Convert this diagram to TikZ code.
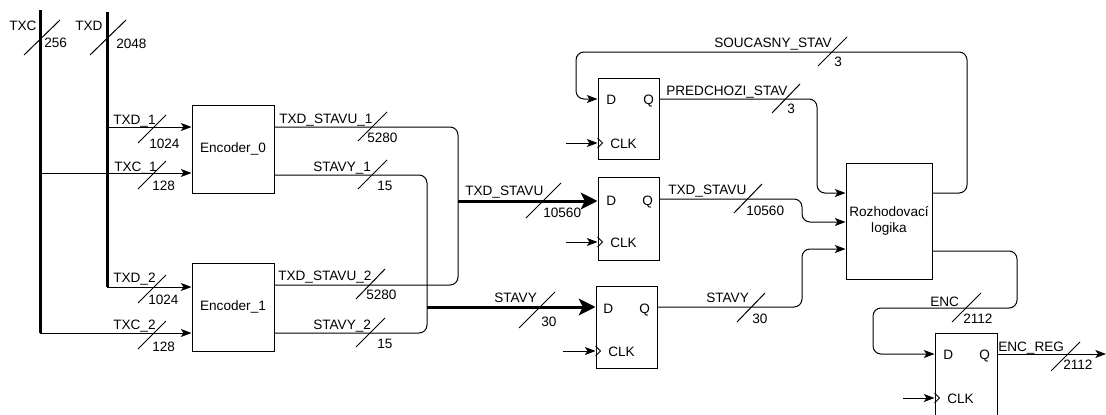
\documentclass[tikz,border=0pt]{standalone}
\usepackage{fontspec}
\setmainfont{Liberation Sans}
\usetikzlibrary{arrows.meta,calc}
\begin{document}
\begin{tikzpicture}[x=0.75pt,y=-0.75pt,
  font=\fontsize{10.2}{12.6}\selectfont,
  wire/.style={line width=0.75pt, draw=black},
  arr/.style={wire, -{Stealth[length=8pt,width=6pt,inset=2pt]}},
  bus/.style={line width=2.25pt, draw=black},
  busarr/.style={bus, -{Stealth[length=12.5pt,width=12.5pt,inset=3pt]}},
  lbl/.style={inner sep=0pt, anchor=base west},
  box/.style={draw, line width=0.75pt, inner sep=0pt},
  encbox/.style={box, minimum width=61.5pt, minimum height=66pt},
  ffbox/.style={box, minimum width=45.75pt},
  sl/.style={line width=0.75pt},
  clktri/.style={line width=0.75pt},
  rc/.style={rounded corners=6pt}]
\useasboundingbox (0,0) rectangle (1106,414);

% ---------- boxes ----------
\node[encbox] (enc0) at (233,149) {Encoder\_0};
\node[encbox] (enc1) at (233,307) {Encoder\_1};
\node[ffbox, minimum height=60.75pt] (ff1) at (628.5,118.5) {};
\node[ffbox, minimum height=62.25pt] (ff2) at (628.5,218.5) {};
\node[ffbox, minimum height=61.5pt] (ff3) at (626.5,327) {};
\node[ffbox, minimum width=46.5pt, minimum height=61.5pt] (ff4) at (966,374) {};
\node[box, minimum width=64.5pt, minimum height=87pt, align=center] (logic) at (889,221) {Rozhodovací\\logika};

% flip-flop texts
\node[lbl] (ff1d) at (606,104) {D};
\node[lbl] (ff1q) at (643,104) {Q};
\node[lbl] (ff1c) at (610,148) {CLK};
\node[lbl] (ff2d) at (606,205) {D};
\node[lbl] (ff2q) at (642,205) {Q};
\node[lbl] (ff2c) at (610,247) {CLK};
\node[lbl] (ff3d) at (603,313) {D};
\node[lbl] (ff3q) at (639,313) {Q};
\node[lbl] (ff3c) at (608,356) {CLK};
\node[lbl] (ff4d) at (943,359) {D};
\node[lbl] (ff4q) at (979,359) {Q};
\node[lbl] (ff4c) at (947,403) {CLK};

% clock triangles and clock arrows
\foreach \n/\y/\xs in {ff1/143/566, ff2/242/566, ff3/351/563, ff4/398/903}{
  \coordinate (\n clkin) at (\xs,\y);
  \draw[arr] (\n clkin) -- (\n.west |- \n clkin);
  \draw[clktri] ($(\n.west |- \n clkin)+(0,-5)$) -- ++(5,5) -- ++(-5,5);
}

% ---------- buses on the left ----------
\coordinate (txcT) at (40,10);
\coordinate (txcB) at (40,333);
\coordinate (txdT) at (107,12);
\coordinate (txdB) at (107,287);
\coordinate (txd1) at (107,127);
\coordinate (txc1) at (40,173);
\draw[bus] (txcT) -- (txcB);
\draw[bus] (txdT) -- (txdB);
\draw[arr] (txd1) -- (enc0.west |- txd1);
\draw[arr] (txc1) -- (enc0.west |- txc1);
\draw[arr] (txdB) -- (enc1.west |- txdB);
\draw[arr] (txcB) -- (enc1.west |- txcB);

% ---------- encoder outputs ----------
\coordinate (ts1) at (274,127);
\coordinate (ts2) at (274,285);
\coordinate (st1) at (274,175);
\coordinate (st2) at (274,333);
\coordinate (tsj) at (458,201);
\coordinate (stj) at (427,307);
\draw[wire, rc] (enc0.east |- ts1) -- (458,127) -- (458,285) -- (enc1.east |- ts2);
\draw[wire, rc] (enc0.east |- st1) -- (427,175) -- (427,333) -- (enc1.east |- st2);
\draw[busarr] (tsj) -- (ff2.west |- tsj);
\draw[busarr] (stj) -- (ff3.west |- stj);

% ---------- register outputs ----------
\coordinate (q1) at (659,99);
\coordinate (q2) at (659,199);
\coordinate (q3) at (657,307);
\coordinate (q4) at (997,354);
\coordinate (lin1) at (846,193);
\coordinate (lin2) at (846,222);
\coordinate (lin3) at (846,249);
\coordinate (lout1) at (932,193);
\coordinate (lout2) at (932,251);
\coordinate (d1) at (598,99);
\coordinate (d4) at (935,354);
\coordinate (encout) at (1106,354);

\draw[arr, rc] (ff1.east |- q1) -- (817,99) -- (817,193) -- (logic.west |- lin1);
\draw[arr, rc] (ff2.east |- q2) -- (802,199) -- (802,222) -- (logic.west |- lin2);
\draw[arr, rc] (ff3.east |- q3) -- (802,307) -- (802,249) -- (logic.west |- lin3);
\draw[arr, rc] (logic.east |- lout1) -- (967,193) -- (967,52) -- (576,52) -- (576,99) -- (ff1.west |- d1);
\draw[arr, rc] (logic.east |- lout2) -- (1017,251) -- (1017,308) -- (873,308) -- (873,354) -- (ff4.west |- d4);
\draw[arr] (ff4.east |- q4) -- (encout);

% ---------- labels ----------
\node[lbl] (lTXC) at (9,31) {TXC};
\node[lbl] (nTXC) at (44,47) {256};
\node[lbl] (lTXD) at (75,31) {TXD};
\node[lbl] (nTXD) at (116,48) {2048};
\node[lbl] (lTXD1) at (113,124) {TXD\_1};
\node[lbl] (nTXD1) at (149,148) {1024};
\node[lbl] (lTXC1) at (114,171) {TXC\_1};
\node[lbl] (nTXC1) at (152,190) {128};
\node[lbl] (lTXD2) at (113,282) {TXD\_2};
\node[lbl] (nTXD2) at (148,304) {1024};
\node[lbl] (lTXC2) at (113,329) {TXC\_2};
\node[lbl] (nTXC2) at (152,351) {128};
\node[lbl] (lTS1) at (279,123) {TXD\_STAVU\_1};
\node[lbl] (nTS1) at (367,142) {5280};
\node[lbl] (lST1) at (313,171) {STAVY\_1};
\node[lbl] (nST1) at (377,190) {15};
\node[lbl] (lTS2) at (278,280) {TXD\_STAVU\_2};
\node[lbl] (nTS2) at (366,299) {5280};
\node[lbl] (lST2) at (313,329) {STAVY\_2};
\node[lbl] (nST2) at (377,348) {15};
\node[lbl] (lTS) at (465,195) {TXD\_STAVU};
\node[lbl] (nTS) at (543,217) {10560};
\node[lbl] (lST) at (494,302) {STAVY};
\node[lbl] (nST) at (541,326) {30};
\node[lbl] (lSOU) at (714,47) {SOUCASNY\_STAV};
\node[lbl] (nSOU) at (834,66) {3};
\node[lbl] (lPRE) at (666,95) {PREDCHOZI\_STAV};
\node[lbl] (nPRE) at (787,113) {3};
\node[lbl] (lTSo) at (668,194) {TXD\_STAVU};
\node[lbl] (nTSo) at (746,215) {10560};
\node[lbl] (lSTo) at (706,302) {STAVY};
\node[lbl] (nSTo) at (752,323) {30};
\node[lbl] (lENC) at (930,306) {ENC};
\node[lbl] (nENC) at (963,323) {2112};
\node[lbl] (lENCR) at (998,351) {ENC\_REG};
\node[lbl] (nENCR) at (1063,369) {2112};

% ---------- bus-width slashes ----------
\draw[sl] (24,55) -- (60,20);
\draw[sl] (90,55) -- (126,20);
\draw[sl] (138,143) -- (166,115);
\draw[sl] (138,189) -- (166,161);
\draw[sl] (138,303) -- (166,275);
\draw[sl] (138,349) -- (166,321);
\draw[sl] (358,141) -- (387,112);
\draw[sl] (358,189) -- (387,160);
\draw[sl] (356,299) -- (385,269);
\draw[sl] (356,347) -- (385,318);
\draw[sl] (526,218) -- (561,183);
\draw[sl] (519,328) -- (555,292);
\draw[sl] (818,66) -- (847,37);
\draw[sl] (772,113) -- (800,84);
\draw[sl] (734,213) -- (762,184);
\draw[sl] (737,322) -- (765,293);
\draw[sl] (952,322) -- (981,293);
\draw[sl] (1051,371) -- (1080,342);
\end{tikzpicture}
\end{document}
